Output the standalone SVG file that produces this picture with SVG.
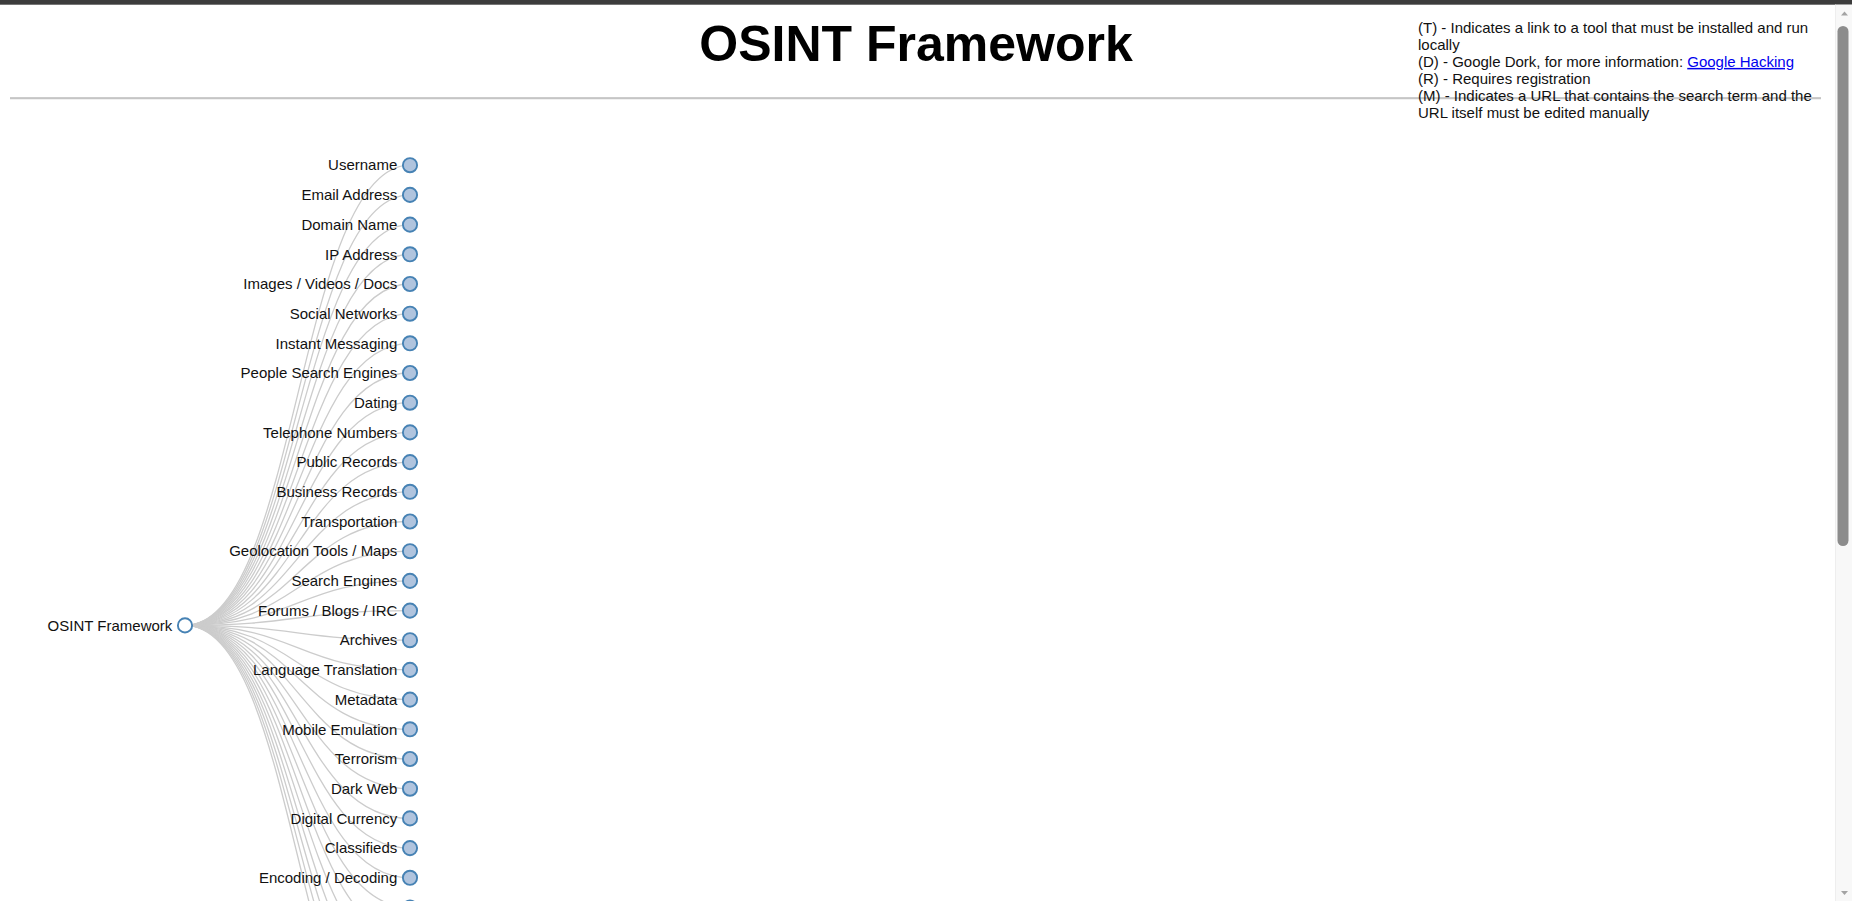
<svg xmlns="http://www.w3.org/2000/svg" width="1852" height="901" viewBox="0 0 1852 901">
<style>
.link{fill:none;stroke:#ccc;stroke-width:1.3}
.node circle{fill:#b0c4de;stroke:#4682b4;stroke-width:1.9}
.node.root circle{fill:#fff}
.node text{font-family:"Liberation Sans",Arial,sans-serif;font-size:15px;fill:#111;text-anchor:end}
.legend{font-family:"Liberation Sans",Arial,sans-serif;font-size:15px;fill:#111}
.title{font-family:"Liberation Sans",Arial,sans-serif;font-size:50px;font-weight:bold;fill:#000;text-anchor:middle}
</style>
<rect x="0" y="0" width="1852" height="901" fill="#fff"/>
<rect x="0" y="0" width="1852" height="4.7" fill="#3c3c3c"/>
<text class="title" x="916" y="61">OSINT Framework</text>
<rect x="10" y="97.5" width="1811" height="1.2" fill="#9a9a9a"/>
<rect x="10" y="98.7" width="1811" height="0.8" fill="#e4e4e4"/>
<g id="connectors">
<path class="link" d="M185,625.4C297.5,625.4 297.5,165.2 410,165.2"/>
<path class="link" d="M185,625.4C297.5,625.4 297.5,194.9 410,194.9"/>
<path class="link" d="M185,625.4C297.5,625.4 297.5,224.6 410,224.6"/>
<path class="link" d="M185,625.4C297.5,625.4 297.5,254.3 410,254.3"/>
<path class="link" d="M185,625.4C297.5,625.4 297.5,284 410,284"/>
<path class="link" d="M185,625.4C297.5,625.4 297.5,313.7 410,313.7"/>
<path class="link" d="M185,625.4C297.5,625.4 297.5,343.3 410,343.3"/>
<path class="link" d="M185,625.4C297.5,625.4 297.5,373 410,373"/>
<path class="link" d="M185,625.4C297.5,625.4 297.5,402.7 410,402.7"/>
<path class="link" d="M185,625.4C297.5,625.4 297.5,432.4 410,432.4"/>
<path class="link" d="M185,625.4C297.5,625.4 297.5,462.1 410,462.1"/>
<path class="link" d="M185,625.4C297.5,625.4 297.5,491.8 410,491.8"/>
<path class="link" d="M185,625.4C297.5,625.4 297.5,521.5 410,521.5"/>
<path class="link" d="M185,625.4C297.5,625.4 297.5,551.2 410,551.2"/>
<path class="link" d="M185,625.4C297.5,625.4 297.5,580.9 410,580.9"/>
<path class="link" d="M185,625.4C297.5,625.4 297.5,610.6 410,610.6"/>
<path class="link" d="M185,625.4C297.5,625.4 297.5,640.2 410,640.2"/>
<path class="link" d="M185,625.4C297.5,625.4 297.5,669.9 410,669.9"/>
<path class="link" d="M185,625.4C297.5,625.4 297.5,699.6 410,699.6"/>
<path class="link" d="M185,625.4C297.5,625.4 297.5,729.3 410,729.3"/>
<path class="link" d="M185,625.4C297.5,625.4 297.5,759 410,759"/>
<path class="link" d="M185,625.4C297.5,625.4 297.5,788.7 410,788.7"/>
<path class="link" d="M185,625.4C297.5,625.4 297.5,818.4 410,818.4"/>
<path class="link" d="M185,625.4C297.5,625.4 297.5,848.1 410,848.1"/>
<path class="link" d="M185,625.4C297.5,625.4 297.5,877.8 410,877.8"/>
<path class="link" d="M185,625.4C297.5,625.4 297.5,907.5 410,907.5"/>
<path class="link" d="M185,625.4C297.5,625.4 297.5,937.1 410,937.1"/>
<path class="link" d="M185,625.4C297.5,625.4 297.5,966.8 410,966.8"/>
<path class="link" d="M185,625.4C297.5,625.4 297.5,996.5 410,996.5"/>
<path class="link" d="M185,625.4C297.5,625.4 297.5,1026.2 410,1026.2"/>
<path class="link" d="M185,625.4C297.5,625.4 297.5,1055.9 410,1055.9"/>
<path class="link" d="M185,625.4C297.5,625.4 297.5,1085.6 410,1085.6"/>
</g>
<g id="node-root" class="node root" transform="translate(185,625.4)"><circle r="7.1"/><text x="-12.7" dy="5.25">OSINT Framework</text></g>
<g id="node-username" class="node" transform="translate(410,165.2)"><circle r="7.1"/><text x="-12.7" dy="5.25">Username</text></g>
<g id="node-email" class="node" transform="translate(410,194.9)"><circle r="7.1"/><text x="-12.7" dy="5.25">Email Address</text></g>
<g id="node-domain" class="node" transform="translate(410,224.6)"><circle r="7.1"/><text x="-12.7" dy="5.25">Domain Name</text></g>
<g id="node-ip" class="node" transform="translate(410,254.3)"><circle r="7.1"/><text x="-12.7" dy="5.25">IP Address</text></g>
<g id="node-images" class="node" transform="translate(410,284)"><circle r="7.1"/><text x="-12.7" dy="5.25">Images / Videos / Docs</text></g>
<g id="node-social" class="node" transform="translate(410,313.7)"><circle r="7.1"/><text x="-12.7" dy="5.25">Social Networks</text></g>
<g id="node-im" class="node" transform="translate(410,343.3)"><circle r="7.1"/><text x="-12.7" dy="5.25">Instant Messaging</text></g>
<g id="node-people" class="node" transform="translate(410,373)"><circle r="7.1"/><text x="-12.7" dy="5.25">People Search Engines</text></g>
<g id="node-dating" class="node" transform="translate(410,402.7)"><circle r="7.1"/><text x="-12.7" dy="5.25">Dating</text></g>
<g id="node-phone" class="node" transform="translate(410,432.4)"><circle r="7.1"/><text x="-12.7" dy="5.25">Telephone Numbers</text></g>
<g id="node-public" class="node" transform="translate(410,462.1)"><circle r="7.1"/><text x="-12.7" dy="5.25">Public Records</text></g>
<g id="node-business" class="node" transform="translate(410,491.8)"><circle r="7.1"/><text x="-12.7" dy="5.25">Business Records</text></g>
<g id="node-transport" class="node" transform="translate(410,521.5)"><circle r="7.1"/><text x="-12.7" dy="5.25">Transportation</text></g>
<g id="node-geo" class="node" transform="translate(410,551.2)"><circle r="7.1"/><text x="-12.7" dy="5.25">Geolocation Tools / Maps</text></g>
<g id="node-search" class="node" transform="translate(410,580.9)"><circle r="7.1"/><text x="-12.7" dy="5.25">Search Engines</text></g>
<g id="node-forums" class="node" transform="translate(410,610.6)"><circle r="7.1"/><text x="-12.7" dy="5.25">Forums / Blogs / IRC</text></g>
<g id="node-archives" class="node" transform="translate(410,640.2)"><circle r="7.1"/><text x="-12.7" dy="5.25">Archives</text></g>
<g id="node-language" class="node" transform="translate(410,669.9)"><circle r="7.1"/><text x="-12.7" dy="5.25">Language Translation</text></g>
<g id="node-metadata" class="node" transform="translate(410,699.6)"><circle r="7.1"/><text x="-12.7" dy="5.25">Metadata</text></g>
<g id="node-mobile" class="node" transform="translate(410,729.3)"><circle r="7.1"/><text x="-12.7" dy="5.25">Mobile Emulation</text></g>
<g id="node-terrorism" class="node" transform="translate(410,759)"><circle r="7.1"/><text x="-12.7" dy="5.25">Terrorism</text></g>
<g id="node-darkweb" class="node" transform="translate(410,788.7)"><circle r="7.1"/><text x="-12.7" dy="5.25">Dark Web</text></g>
<g id="node-currency" class="node" transform="translate(410,818.4)"><circle r="7.1"/><text x="-12.7" dy="5.25">Digital Currency</text></g>
<g id="node-classifieds" class="node" transform="translate(410,848.1)"><circle r="7.1"/><text x="-12.7" dy="5.25">Classifieds</text></g>
<g id="node-encoding" class="node" transform="translate(410,877.8)"><circle r="7.1"/><text x="-12.7" dy="5.25">Encoding / Decoding</text></g>
<g id="node-next" class="node" transform="translate(410,907.5)"><circle r="7.1"/></g>
<g id="legend" class="legend">
<text x="1418" y="32.7">(T) - Indicates a link to a tool that must be installed and run</text>
<text x="1418" y="49.8">locally</text>
<text x="1418" y="66.9">(D) - Google Dork, for more information: <tspan fill="#0000ee" text-decoration="underline">Google Hacking</tspan></text>
<text x="1418" y="84">(R) - Requires registration</text>
<text x="1418" y="101.1">(M) - Indicates a URL that contains the search term and the</text>
<text x="1418" y="118.2">URL itself must be edited manually</text>
</g>
<g id="scrollbar">
<rect x="1835" y="4.7" width="17" height="896.3" fill="#f8f8f8"/>
<rect x="1835" y="4.7" width="1" height="896.3" fill="#eeeeee"/>
<path d="M1841,15.5 L1844.5,11.5 L1848,15.5Z" fill="#a3a3a3"/>
<rect x="1837.5" y="26" width="11" height="520" rx="5.5" fill="#8c8c8c"/>
<path d="M1841,891 L1844.5,895 L1848,891Z" fill="#a3a3a3"/>
</g>
</svg>
